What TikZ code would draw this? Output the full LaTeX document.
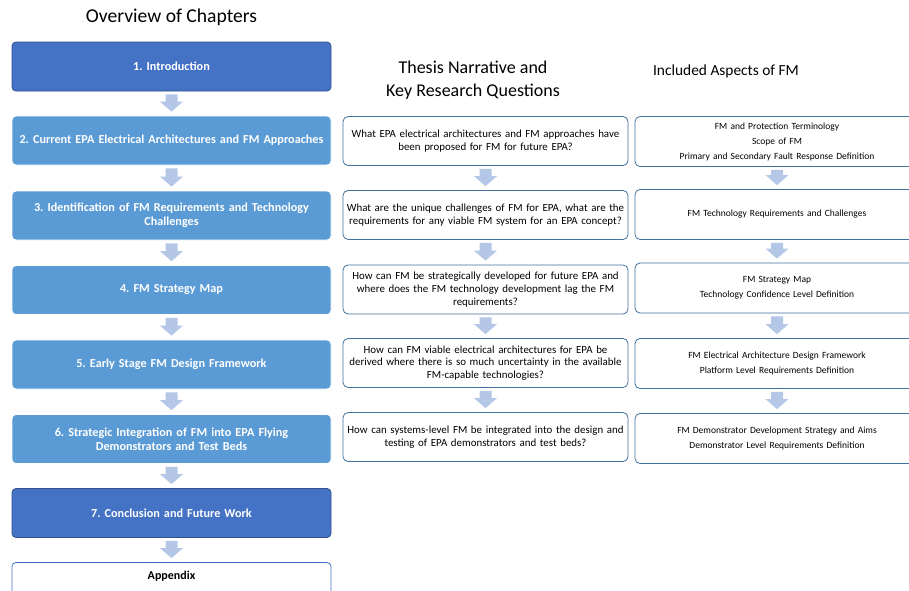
\documentclass[tikz,border=0pt]{standalone}
\usepackage{fontspec}
\setmainfont{Carlito}
\usetikzlibrary{calc}
\definecolor{darkblue}{HTML}{4472C4}
\definecolor{darkborder}{HTML}{2F528F}
\definecolor{lightblue}{HTML}{5B9BD5}
\definecolor{qborder}{HTML}{41719C}
\definecolor{arrowfill}{HTML}{B4C7E7}
\tikzset{
  chapdark/.style={draw=darkborder, fill=darkblue, line width=0.8pt, rounded corners=4pt,
    minimum width=319pt, minimum height=49pt, text width=310pt, align=center,
    text=white, font=\fontsize{12.2}{13.8}\selectfont\bfseries, inner sep=0pt},
  chaplight/.style={draw=white, fill=lightblue, line width=0.8pt, rounded corners=4pt,
    minimum width=319pt, minimum height=49pt, text width=310pt, align=center,
    text=white, font=\fontsize{12.2}{13.8}\selectfont\bfseries, inner sep=0pt},
  chapwhite/.style={draw=darkblue, fill=white, line width=0.8pt, rounded corners=4pt,
    minimum width=319pt, minimum height=49pt, inner sep=0pt},
  qbox/.style={draw=qborder, fill=white, line width=0.8pt, rounded corners=5pt,
    minimum width=285pt, minimum height=49pt, text width=282pt, align=center,
    font=\fontsize{10.9}{12.8}\selectfont, inner sep=0pt},
  abox/.style={draw=qborder, fill=white, line width=0.8pt, rounded corners=5pt,
    minimum width=284pt, minimum height=50pt, text width=276pt, align=center,
    font=\fontsize{9.5}{15}\selectfont, inner sep=0pt},
  titletext/.style={align=center, inner sep=0pt}
}
\newcommand{\blkarrow}[2]{%
  \fill[arrowfill] let \p1=(#1.south), \p2=(#2.north) in
    (\x1-6pt,\y1-3pt) -- (\x1+6pt,\y1-3pt) -- (\x1+6pt,\y2+14pt) -- (\x1+11.5pt,\y2+14pt)
    -- (\x1,\y2+4pt) -- (\x1-11.5pt,\y2+14pt) -- (\x1-6pt,\y2+14pt) -- cycle;}
\begin{document}
\frenchspacing
\begin{tikzpicture}[x=1pt,y=-1pt]
\useasboundingbox (0,0) rectangle (909,590);
\clip (0,0) rectangle (909,590);
\fill[white] (0,0) rectangle (909,590);
% titles
\node[titletext, font=\fontsize{19.6}{22}\selectfont] (t1) at (171.5,17) {Overview of Chapters};
\node[titletext, font=\fontsize{18}{23.5}\selectfont] (t2) at (473,80) {Thesis Narrative and\\Key Research Questions};
\node[titletext, font=\fontsize{15.4}{17}\selectfont] (t3) at (726,71) {Included Aspects of FM};
% left column
\node[chapdark]  (c1) at (171.5,66.5) {1. Introduction};
\node[chaplight] (c2) at (171.5,140.5) {2. Current EPA Electrical Architectures and FM Approaches};
\node[chaplight] (c3) at (171.5,215.5) {3. Identification of FM Requirements and Technology\\Challenges};
\node[chaplight] (c4) at (171.5,290) {4. FM Strategy Map};
\node[chaplight] (c5) at (171.5,364.5) {5. Early Stage FM Design Framework};
\node[chaplight] (c6) at (171.5,439) {6. Strategic Integration of FM into EPA Flying\\Demonstrators and Test Beds};
\node[chapdark]  (c7) at (171.5,513) {7. Conclusion and Future Work};
\node[chapwhite] (c8) at (171.5,587) {};
\node[font=\fontsize{12}{13}\selectfont\bfseries, inner sep=0pt] (c8t) at (171.5,576) {Appendix};
\blkarrow{c1}{c2}
\blkarrow{c2}{c3}
\blkarrow{c3}{c4}
\blkarrow{c4}{c5}
\blkarrow{c5}{c6}
\blkarrow{c6}{c7}
\blkarrow{c7}{c8}
% middle column
\node[qbox] (q1) at (485.5,141) {What EPA electrical architectures and FM approaches have\\been proposed for FM for future EPA?};
\node[qbox] (q2) at (485.5,215) {What are the unique challenges of FM for EPA, what are the\\requirements for any viable FM system for an EPA concept?};
\node[qbox] (q3) at (485.5,289.5) {How can FM be strategically developed for future EPA and\\where does the FM technology development lag the FM\\requirements?};
\node[qbox] (q4) at (485.5,363) {How can FM viable electrical architectures for EPA be\\derived where there is so much uncertainty in the available\\FM-capable technologies?};
\node[qbox] (q5) at (485.5,437) {How can systems-level FM be integrated into the design and\\testing of EPA demonstrators and test beds?};
\blkarrow{q1}{q2}
\blkarrow{q2}{q3}
\blkarrow{q3}{q4}
\blkarrow{q4}{q5}
% right column
\node[abox] (a1) at (777,141.5) {FM and Protection Terminology\\Scope of FM\\Primary and Secondary Fault Response Definition};
\node[abox] (a2) at (777,214.5) {FM Technology Requirements and Challenges};
\node[abox] (a3) at (777,288) {FM Strategy Map\\Technology Confidence Level Definition};
\node[abox] (a4) at (777,363.5) {FM Electrical Architecture Design Framework\\Platform Level Requirements Definition};
\node[abox] (a5) at (777,438.5) {FM Demonstrator Development Strategy and Aims\\Demonstrator Level Requirements Definition};
\blkarrow{a1}{a2}
\blkarrow{a2}{a3}
\blkarrow{a3}{a4}
\blkarrow{a4}{a5}
\end{tikzpicture}
\end{document}
